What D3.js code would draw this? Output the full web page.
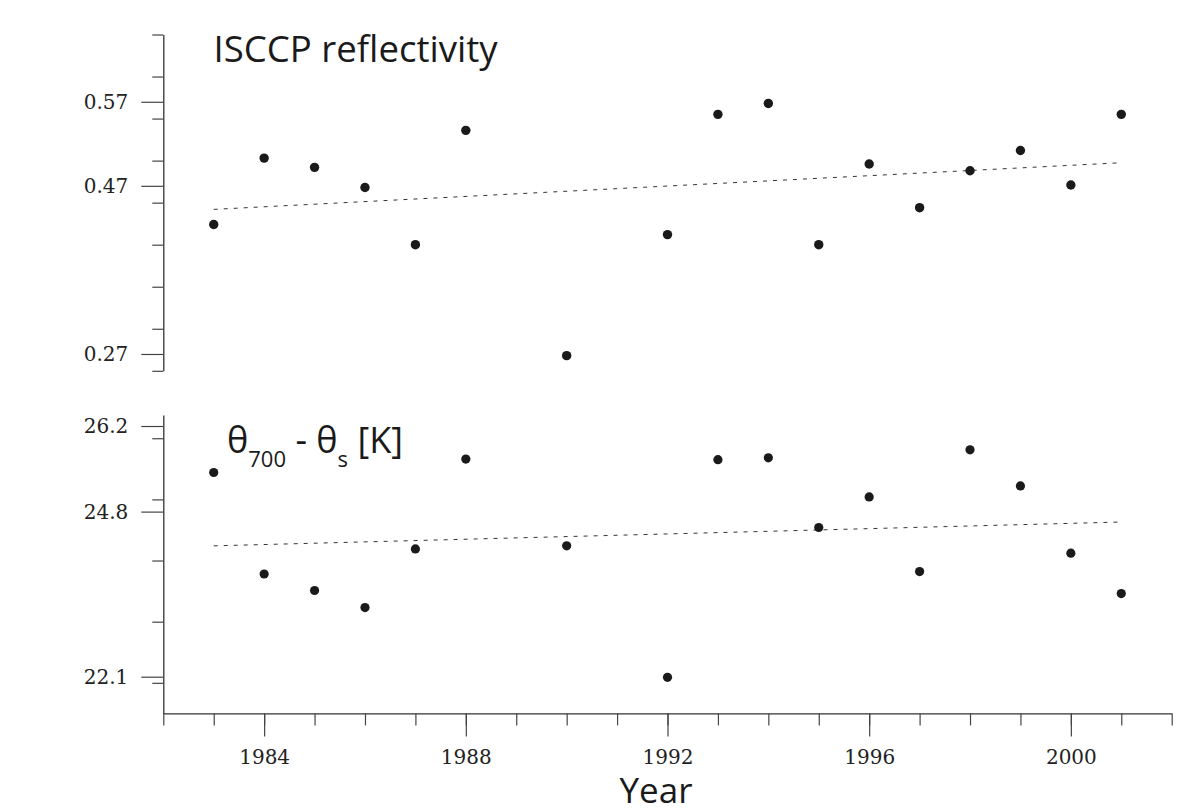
<!DOCTYPE html>
<html>
<head>
<meta charset="utf-8">
<script src="https://cdn.jsdelivr.net/npm/d3@7"></script>
<style>
  html, body { margin: 0; padding: 0; background: #fff; }
  svg { display: block; }
</style>
</head>
<body>
<svg id="chart" width="1177" height="812"></svg>
<script>
// ---- data ----
const years = [1983, 1984, 1985, 1986, 1987, 1988, 1990, 1992, 1993, 1994, 1995, 1996, 1997, 1998, 1999, 2000, 2001];
const reflectivity = [0.424, 0.503, 0.492, 0.468, 0.400, 0.536, 0.268, 0.412, 0.555, 0.568, 0.400, 0.496, 0.444, 0.488, 0.512, 0.471, 0.555];
const thetaDiff = [25.44, 23.78, 23.51, 23.23, 24.19, 25.66, 24.24, 22.09, 25.65, 25.68, 24.54, 25.04, 23.82, 25.81, 25.22, 24.12, 23.46];
const trendYears = [1983, 2001];
const reflTrend = [0.442, 0.4975];
const thetaTrend = [24.24, 24.63];
const reflLabelTicks = [0.27, 0.47, 0.57];
const reflMinorTicks = [0.25, 0.30, 0.35, 0.40, 0.45, 0.50, 0.55, 0.60, 0.65];
const thetaLabelTicks = [22.1, 24.8, 26.2];
const thetaMinorTicks = [22, 23, 24, 25, 26];
const yearMinorTicks = d3.range(1982, 2003);
const yearLabelTicks = [1984, 1988, 1992, 1996, 2000];

// ---- layout ----
const svg = d3.select("#chart");
const axisX0 = 163.3;
const x = d3.scaleLinear().domain([1982, 2002]).range([axisX0, 1171.7]);
const yTop = d3.scaleLinear().domain([0.25, 0.65]).range([370.8, 34.5]);
const yBot = d3.scaleLinear().domain([21.5, 26.38]).range([713.4, 415]);

const axisColor = "#333";
const tickFont = "'DejaVu Serif', serif";

function styleAxis(g) {
  g.selectAll("path.domain").attr("stroke", axisColor).attr("stroke-width", 1.3);
  g.selectAll(".tick line").attr("stroke", "#444").attr("stroke-width", 1.2);
  g.selectAll("text").attr("font-family", tickFont).attr("font-size", 20).attr("fill", "#222");
}

// top y axis
const gTopMinor = svg.append("g").attr("transform", `translate(${axisX0},0)`)
  .call(d3.axisLeft(yTop).tickValues(reflMinorTicks).tickSize(11).tickSizeOuter(0).tickFormat(""));
styleAxis(gTopMinor);
const gTopMajor = svg.append("g").attr("transform", `translate(${axisX0},0)`)
  .call(d3.axisLeft(yTop).tickValues(reflLabelTicks).tickSize(22).tickSizeOuter(0).tickPadding(13).tickFormat(d3.format(".2f")));
gTopMajor.select("path.domain").remove();
styleAxis(gTopMajor);

// bottom y axis
const gBotMinor = svg.append("g").attr("transform", `translate(${axisX0},0)`)
  .call(d3.axisLeft(yBot).tickValues(thetaMinorTicks).tickSize(11).tickSizeOuter(0).tickFormat(""));
styleAxis(gBotMinor);
const gBotMajor = svg.append("g").attr("transform", `translate(${axisX0},0)`)
  .call(d3.axisLeft(yBot).tickValues(thetaLabelTicks).tickSize(22).tickSizeOuter(0).tickPadding(13).tickFormat(d3.format(".1f")));
gBotMajor.select("path.domain").remove();
styleAxis(gBotMajor);

// x axis
const xAxisY = yBot(21.5);
const gXMinor = svg.append("g").attr("transform", `translate(0,${xAxisY})`)
  .call(d3.axisBottom(x).tickValues(yearMinorTicks).tickSize(12).tickSizeOuter(0).tickFormat(""));
styleAxis(gXMinor);
const gXMajor = svg.append("g").attr("transform", `translate(0,${xAxisY})`)
  .call(d3.axisBottom(x).tickValues(yearLabelTicks).tickSize(23).tickSizeOuter(0).tickFormat(d3.format("d")));
gXMajor.select("path.domain").remove();
styleAxis(gXMajor);
gXMajor.selectAll("text").attr("y", 50.7).attr("dy", null);

// trend lines
const trendLine = (yS, vals) => d3.line().x((d, i) => x(d)).y((d, i) => yS(vals[i]))(trendYears);
svg.append("path").attr("d", trendLine(yTop, reflTrend))
  .attr("fill", "none").attr("stroke", "#333").attr("stroke-width", 1).attr("stroke-dasharray", "4,6");
svg.append("path").attr("d", trendLine(yBot, thetaTrend))
  .attr("fill", "none").attr("stroke", "#333").attr("stroke-width", 1).attr("stroke-dasharray", "4,6");

// points
svg.append("g").selectAll("circle").data(years).join("circle")
  .attr("cx", d => x(d)).attr("cy", (d, i) => yTop(reflectivity[i])).attr("r", 4.7).attr("fill", "#1a1a1a");
svg.append("g").selectAll("circle").data(years).join("circle")
  .attr("cx", d => x(d)).attr("cy", (d, i) => yBot(thetaDiff[i])).attr("r", 4.6).attr("fill", "#1a1a1a");

// titles
const titleFont = "'Open Sans', sans-serif";
svg.append("text").attr("x", 213.5).attr("y", 61.7)
  .attr("font-family", titleFont).attr("font-size", 36.6).attr("fill", "#1a1a1a")
  .text("ISCCP reflectivity");

const t2 = svg.append("text").attr("x", 227).attr("y", 453.3)
  .attr("font-family", titleFont).attr("font-size", 36).attr("fill", "#1a1a1a");
t2.append("tspan").text("θ");
t2.append("tspan").attr("font-size", 22).attr("dy", 13.4).text("700");
t2.append("tspan").attr("dy", -13.4).text(" - θ");
t2.append("tspan").attr("font-size", 22).attr("dy", 13.4).text("s");
t2.append("tspan").attr("dy", -13.4).text(" [K]");

svg.append("text").attr("x", 656).attr("y", 802.5).attr("text-anchor", "middle")
  .attr("font-family", titleFont).attr("font-size", 35).attr("fill", "#1a1a1a")
  .text("Year");
</script>
</body>
</html>
